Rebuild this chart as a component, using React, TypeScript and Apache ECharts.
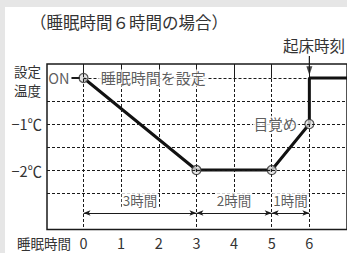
import React, { useEffect, useRef } from 'react';
import * as echarts from 'echarts';

const hours = [0, 1, 2, 3, 4, 5, 6];
const hourLabels = ['0', '1', '2', '3', '4', '5', '6'];
const keyHours = [0, 3, 5, 6];
const keyTemps = [0, -2, -2, -1];
const profileX = [0, 3, 5, 6, 6, 7.5];
const profileY = [0, -2, -2, -1, 0, 0];
const gridLevels = [-0.5, -1, -1.5, -2, -2.5];
const tempLabelValues = [-1, -2];
const tempLabels = ['−1℃', '−2℃'];
const yTitleLines = ['設定', '温度'];
const spanStarts = [0, 3, 5];
const spanEnds = [3, 5, 6];
const spanLabels = ['3時間', '2時間', '1時間'];
const fullDashHours = [0, 3, 5, 6];
const title = '（睡眠時間６時間の場合）';
const wakeTimeLabel = '起床時刻';
const xAxisName = '睡眠時間';
const onLabel = 'ON';
const setLabel = '睡眠時間を設定';
const wakeUpLabel = '目覚め';

const X_MIN = -0.97;
const X_MAX = 7;
const Y_MIN = -3.293;
const Y_MAX = 0.304;
const SPAN_ARROW_Y = -2.935;
const SPAN_LABEL_Y = -2.66;
const SHORT_DASH_END = -2.8;
const SET_LABEL_X = 1.85;
const ON_LEADER = [-0.32, -0.1];
const WAKE_ARROW_Y = [0.48, 0.16];

const FONT = '"Noto Sans CJK JP", "Noto Sans", sans-serif';
const TEXT = '#333';
const INK = '#1a1a1a';

export default function App() {
  const ref = useRef<HTMLDivElement>(null);
  useEffect(() => {
    if (!ref.current) return;
    const chart = echarts.init(ref.current, undefined, { renderer: 'svg' });

    const dashLines: any[] = [];
    gridLevels.forEach((lv) => {
      dashLines.push([{ coord: [X_MIN, lv] }, { coord: [X_MAX, lv] }]);
    });
    dashLines.push([{ coord: [0, 0] }, { coord: [6, 0] }]);
    hours.forEach((h) => {
      const top = h === 6 ? -1 : Y_MAX;
      const bottom = fullDashHours.includes(h) ? Y_MIN : SHORT_DASH_END;
      dashLines.push([{ coord: [h, top] }, { coord: [h, bottom] }]);
    });

    const spanArrows = spanStarts.map((s, i) => [
      { coord: [s, SPAN_ARROW_Y] },
      { coord: [spanEnds[i], SPAN_ARROW_Y] },
    ]);

    const option: any = {
      animation: false,
      grid: {
        left: 47,
        top: 64,
        width: 331.2,
        height: 165.5,
        show: true,
        borderColor: INK,
        borderWidth: 1.5,
        backgroundColor: 'transparent',
      },
      xAxis: {
        type: 'value',
        min: X_MIN,
        max: X_MAX,
        axisLine: { show: false },
        splitLine: { show: false },
        axisTick: {
          show: true,
          inside: true,
          length: 11,
          customValues: hours,
          lineStyle: { color: INK, width: 1 },
        },
        axisLabel: {
          show: true,
          customValues: hours,
          formatter: (v: number) => hourLabels[hours.indexOf(Math.round(v))] ?? '',
          margin: 6,
          fontSize: 14.5,
          color: TEXT,
          fontFamily: FONT,
        },
      },
      yAxis: {
        type: 'value',
        min: Y_MIN,
        max: Y_MAX,
        axisLine: { show: false },
        splitLine: { show: false },
        axisTick: {
          show: true,
          inside: true,
          length: 4,
          customValues: [0],
          lineStyle: { color: INK, width: 1 },
        },
        axisLabel: {
          show: true,
          customValues: tempLabelValues,
          formatter: (v: number) => tempLabels[tempLabelValues.indexOf(Math.round(v))] ?? '',
          margin: 5,
          fontSize: 14.5,
          color: TEXT,
          fontFamily: FONT,
        },
      },
      graphic: [
        {
          type: 'text',
          x: 30,
          y: 22,
          style: { text: title, fontSize: 16.5, fill: TEXT, fontFamily: FONT, verticalAlign: 'middle' },
        },
        {
          type: 'text',
          x: 345,
          y: 45,
          style: { text: wakeTimeLabel, fontSize: 15.5, fill: TEXT, fontFamily: FONT, align: 'right', verticalAlign: 'middle' },
        },
        {
          type: 'text',
          x: 17,
          y: 243,
          style: { text: xAxisName, fontSize: 13.5, fill: TEXT, fontFamily: FONT, verticalAlign: 'middle' },
        },
        {
          type: 'text',
          x: 41,
          y: 70.5,
          style: { text: yTitleLines[0], fontSize: 13.5, lineHeight: 16, fill: TEXT, fontFamily: FONT, align: 'right', verticalAlign: 'middle' },
        },
        {
          type: 'text',
          x: 41,
          y: 89.5,
          style: { text: yTitleLines[1], fontSize: 13.5, lineHeight: 16, fill: TEXT, fontFamily: FONT, align: 'right', verticalAlign: 'middle' },
        },
      ],
      series: [
        {
          type: 'line',
          data: [],
          silent: true,
          z: 1,
          markLine: {
            silent: true,
            symbol: ['none', 'none'],
            label: { show: false },
            lineStyle: { color: INK, width: 1, type: [3, 2] },
            emphasis: { disabled: true },
            data: dashLines,
          },
        },
        {
          type: 'line',
          data: [],
          silent: true,
          z: 2,
          markLine: {
            silent: true,
            symbol: ['arrow', 'arrow'],
            symbolSize: [4, 7],
            label: { show: false },
            lineStyle: { color: INK, width: 1, type: 'solid' },
            emphasis: { disabled: true },
            data: spanArrows,
          },
        },
        {
          type: 'line',
          data: [],
          silent: true,
          z: 2,
          markLine: {
            silent: true,
            symbol: ['none', 'none'],
            label: { show: false },
            lineStyle: { color: INK, width: 2, type: 'solid' },
            emphasis: { disabled: true },
            data: [[{ coord: [ON_LEADER[0], 0] }, { coord: [ON_LEADER[1], 0] }]],
          },
        },
        {
          type: 'line',
          silent: true,
          clip: false,
          z: 2,
          symbol: 'none',
          lineStyle: { color: INK, width: 1.2 },
          data: [[6, WAKE_ARROW_Y[0]], [6, WAKE_ARROW_Y[1]]],
        },
        {
          type: 'scatter',
          silent: true,
          clip: false,
          z: 3,
          symbol: 'triangle',
          symbolSize: [6, 9],
          symbolRotate: 180,
          itemStyle: { color: INK },
          data: [[6, WAKE_ARROW_Y[1]]],
        },
        {
          type: 'line',
          data: profileX.map((x, i) => [x, profileY[i]]),
          symbol: 'none',
          silent: true,
          z: 3,
          lineStyle: { color: '#111', width: 3 },
        },
        {
          type: 'scatter',
          data: keyHours.map((h, i) => [h, keyTemps[i]]),
          symbol: 'circle',
          symbolSize: 9,
          silent: true,
          z: 4,
          itemStyle: { color: '#ddd', borderColor: '#333', borderWidth: 1.2 },
        },
        {
          type: 'scatter',
          symbolSize: 0,
          silent: true,
          z: 5,
          label: { show: true, formatter: '{b}', color: TEXT, fontSize: 14, fontFamily: FONT },
          data: [
            { value: [0, 0], name: onLabel, label: { position: 'left', distance: 14, fontSize: 14.5 } },
            {
              value: [SET_LABEL_X, 0],
              name: setLabel,
              label: { position: 'inside', backgroundColor: '#fff', padding: [1, 2], fontSize: 15 },
            },
            {
              value: [6, -1],
              name: wakeUpLabel,
              label: { position: 'left', distance: 11, backgroundColor: '#fff', padding: [1, 1], fontSize: 14.5 },
            },
            ...spanStarts.map((s, i) => ({
              value: [(s + spanEnds[i]) / 2, SPAN_LABEL_Y],
              name: spanLabels[i],
              label: { position: 'inside', backgroundColor: '#fff', padding: [1, 1], fontSize: 13.5 },
            })),
          ],
        },
      ],
    };
    chart.setOption(option);
    return () => chart.dispose();
  }, []);

  return (
    <div style={{ position: 'fixed', left: 0, top: 0, width: 347, height: 253, background: '#e6e6e6', overflow: 'hidden' }}>
      <div style={{ position: 'absolute', left: 5, top: 7, right: 0, bottom: 0, background: '#fff' }} />
      <div ref={ref} style={{ position: 'absolute', left: 0, top: 0, width: 347, height: 253 }} />
    </div>
  );
}
